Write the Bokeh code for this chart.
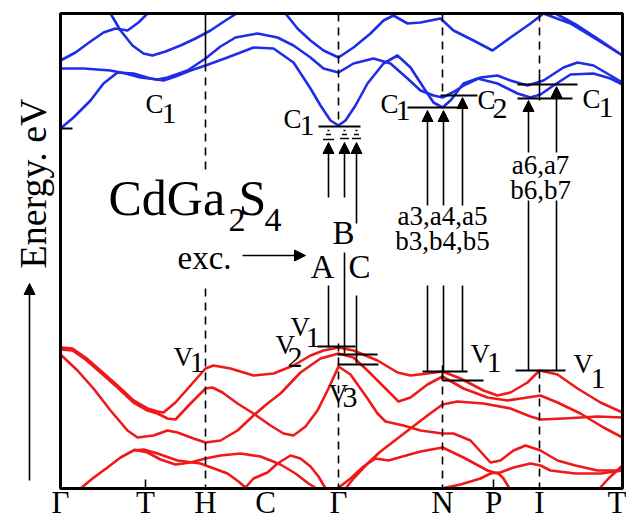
import math
from bokeh.plotting import figure
from bokeh.models import ColumnDataSource, Range1d, Arrow, NormalHead
from bokeh.core.properties import value
from bokeh.embed import file_html
from bokeh.resources import INLINE

FONT = "Liberation Serif"
BLUE = "#1f2de6"
RED = "#f01818"

# ---- k-path (arbitrary units) and high-symmetry labels ----
k_ticks = [0.0, 0.85, 1.45, 2.05, 2.78, 3.82, 4.33, 4.79, 5.62]
tick_labels = ["Γ", "T", "H", "C", "Γ", "N", "P", "I", "T"]
k_min, k_max = 0.0, 5.62          # ends of the k-path
E_min, E_max = -1.39, 3.36        # energy window of the panel (eV)
cbm_tick = 2.21                   # small tick on the energy axis

# ---- conduction bands (eV) ----
cb1_k = [0, .13, .30, .43, .57, .73, .90, 1.03, 1.15, 1.30, 1.45, 1.67, 1.93, 2.13, 2.33, 2.50, 2.60, 2.70, 2.78, 2.85,
         2.95, 3.07, 3.23, 3.37, 3.50, 3.63, 3.73, 3.82, 3.90, 4.03, 4.17, 4.37, 4.57, 4.70, 4.80, 4.93, 5.10, 5.33, 5.50, 5.62]
cb1_E = [2.21, 2.32, 2.49, 2.66, 2.77, 2.76, 2.71, 2.69, 2.73, 2.79, 2.84, 2.92, 3.02, 3.01, 2.87, 2.61, 2.44, 2.29, 2.24, 2.29,
         2.44, 2.66, 2.86, 2.94, 2.82, 2.62, 2.47, 2.42, 2.49, 2.66, 2.71, 2.66, 2.56, 2.52, 2.55, 2.64, 2.75, 2.76, 2.71, 2.65]
cb2_k = [0, .23, .50, .65, .80, .97, 1.07, 1.27, 1.45, 1.60, 1.75, 1.97, 2.17, 2.33, 2.50, 2.63, 2.78, 2.93, 3.13, 3.30,
         3.47, 3.60, 3.73, 3.82, 3.92, 4.05, 4.20, 4.37, 4.50, 4.67, 4.83, 5.03, 5.17, 5.33, 5.62]
cb2_E = [2.81, 2.81, 2.79, 2.76, 2.72, 2.70, 2.72, 2.79, 2.91, 3.03, 3.12, 3.16, 3.12, 3.04, 2.92, 2.81, 2.77, 2.86, 2.91, 2.86,
         2.71, 2.59, 2.54, 2.52, 2.57, 2.65, 2.72, 2.74, 2.69, 2.64, 2.69, 2.82, 2.87, 2.84, 2.67]
cb3_k = [2.25, 2.37, 2.50, 2.63, 2.78, 2.93, 3.10, 3.23, 3.33, 3.47, 3.60, 3.80, 3.93, 4.13, 4.32, 4.50, 4.70, 4.83]
cb3_E = [3.36, 3.21, 3.09, 2.99, 2.92, 3.02, 3.16, 3.29, 3.34, 3.26, 3.27, 3.31, 3.19, 3.09, 2.99, 3.12, 3.26, 3.36]
cb4_k = [4.83, 5.10, 5.33, 5.62]
cb4_E = [3.36, 3.26, 3.12, 2.94]
cb5_k = [4.95, 5.17, 5.40, 5.62]
cb5_E = [3.36, 3.24, 3.09, 2.94]
cb6_k = [0, .15, .30, .43, .55, .67, .78, .87]
cb6_E = [2.89, 2.97, 3.08, 3.17, 3.21, 3.19, 3.27, 3.36]
cb7_k = [.50, .60, .72, .83, .92, 1.05, 1.20, 1.35, 1.50, 1.65, 1.76]
cb7_E = [3.36, 3.19, 3.04, 2.96, 2.94, 2.98, 3.04, 3.11, 3.19, 3.29, 3.36]

# ---- valence bands (eV) ----
vb1_k = [0, .12, .25, .40, .57, .73, .87, .97, 1.03, 1.15, 1.30, 1.45, 1.53, 1.70, 1.93, 2.13, 2.33, 2.50, 2.63, 2.78,
         2.93, 3.17, 3.37, 3.50, 3.67, 3.82, 4.00, 4.23, 4.37, 4.50, 4.67, 4.79, 4.97, 5.17, 5.40, 5.62]
vb1_E = [.02, .01, -.08, -.21, -.36, -.51, -.59, -.62, -.63, -.53, -.36, -.19, -.16, -.19, -.26, -.24, -.16, -.06, -.01, .02,
         -.01, -.11, -.23, -.26, -.24, -.22, -.29, -.41, -.46, -.43, -.33, -.21, -.25, -.39, -.53, -.63]
vb2_k = [0, .12, .25, .40, .57, .73, .87, .97, 1.07, 1.15, 1.30, 1.45, 1.52, 1.62, 1.77, 1.93, 2.10, 2.23, 2.33, 2.45,
         2.57, 2.68, 2.78, 2.90, 3.07, 3.17, 3.25, 3.43, 3.60, 3.82, 3.93, 4.10, 4.30, 4.40, 4.53, 4.65, 4.80, 4.97, 5.15, 5.37, 5.62]
vb2_E = [.00, -.01, -.10, -.23, -.38, -.53, -.61, -.64, -.69, -.70, -.54, -.39, -.38, -.43, -.54, -.64, -.76, -.84, -.86, -.77,
         -.61, -.39, -.17, -.25, -.49, -.64, -.72, -.76, -.81, -.84, -.84, -.91, -1.13, -1.11, -1.01, -.96, -1.01, -1.11, -1.16, -1.21, -1.21]
vb3_k = [0, .17, .33, .50, .67, .77, .93, 1.07, 1.17, 1.33, 1.45, 1.60, 1.77, 1.93, 2.07, 2.20, 2.40, 2.60, 2.78, 2.93,
         3.07, 3.17, 3.27, 3.38, 3.50, 3.67, 3.82, 4.03, 4.27, 4.47, 4.67, 4.80, 4.97, 5.20, 5.43, 5.62]
vb3_E = [-.05, -.21, -.39, -.61, -.81, -.88, -.86, -.81, -.83, -.89, -.93, -.91, -.81, -.66, -.54, -.44, -.23, -.09, -.04, -.08,
         -.21, -.31, -.41, -.52, -.48, -.35, -.27, -.39, -.48, -.51, -.48, -.46, -.53, -.64, -.78, -.88]
vb4_k = [.20, .32, .47, .60, .73, .83, .97, 1.17, 1.40, 1.67, 1.78, 1.85, 1.93, 2.07, 2.17, 2.30, 2.40, 2.50, 2.58, 2.65]
vb4_E = [-1.39, -1.29, -1.18, -1.08, -1.01, -1.00, -1.04, -1.11, -1.14, -1.24, -1.32, -1.38, -1.29, -1.23, -1.14, -1.06,
         -1.09, -1.17, -1.27, -1.39]
vb5_k = [.73, .87, 1.00, 1.15, 1.30, 1.45, 1.60, 1.80, 2.00, 2.20, 2.35, 2.48, 2.56]
vb5_E = [-1.00, -1.03, -1.10, -1.15, -1.13, -1.09, -1.06, -1.04, -1.07, -1.15, -1.24, -1.34, -1.39]
vb6_k = [2.85, 2.93, 3.07, 3.20, 3.33, 3.50, 3.67, 3.82, 3.97, 4.23, 4.50, 4.70, 4.80, 5.03, 5.37, 5.62]
vb6_E = [-1.39, -1.29, -1.14, -1.02, -.92, -.79, -.66, -.55, -.52, -.54, -.59, -.67, -.70, -.69, -.67, -.68]
vb7_k = [2.77, 2.90, 3.03, 3.15, 3.28, 3.42, 3.60, 3.82, 4.03, 4.27, 4.37, 4.53, 4.70, 4.80, 4.90, 5.15, 5.40, 5.62]
vb7_E = [-1.39, -1.29, -1.17, -1.09, -1.11, -1.07, -1.02, -.98, -1.08, -1.21, -1.24, -1.18, -1.14, -1.16, -1.21, -1.24,
         -1.24, -1.21]
vb8_k = [5.39, 5.48, 5.62]
vb8_E = [-1.39, -1.29, -1.16]
vb9_k = [3.81, 4.00, 4.20, 4.30, 4.37, 4.43, 4.49]
vb9_E = [-1.39, -1.35, -1.29, -1.24, -1.23, -1.29, -1.39]

conduction = [(cb1_k, cb1_E), (cb2_k, cb2_E), (cb3_k, cb3_E), (cb4_k, cb4_E), (cb5_k, cb5_E), (cb6_k, cb6_E), (cb7_k, cb7_E)]
valence = [(vb1_k, vb1_E), (vb2_k, vb2_E), (vb3_k, vb3_E), (vb4_k, vb4_E), (vb5_k, vb5_E), (vb6_k, vb6_E),
           (vb7_k, vb7_E), (vb8_k, vb8_E), (vb9_k, vb9_E)]

# ---- annotations: symmetry lines, levels, transitions ----
dash_k = [1.45, 1.45, 2.78, 2.78, 3.82, 3.82, 4.79, 4.79]
dash_E0 = [2.86, .61, 3.36, .06, 3.36, -.23, 3.36, -.21]
dash_E1 = [1.79, -1.39, 2.24, -1.39, 2.54, -1.39, 2.76, -1.39]
solid_k = [1.45, 3.82, 4.79]
solid_E0 = [3.36, -.16, 2.76]
solid_E1 = [2.86, -.31, 2.49]

lev_k0 = [2.58, 2.57, 2.77, 2.77, 3.47, 3.80, 3.62, 3.82, 4.57, 4.57, 4.55]
lev_k1 = [3.00, 2.95, 3.17, 3.18, 4.00, 4.17, 4.07, 4.23, 5.17, 5.12, 5.05]
lev_E = [2.23, .03, -.05, -.15, 2.42, 2.54, -.22, -.31, 2.65, 2.51, -.21]

arr_k = [2.68, 2.84, 2.96, 3.67, 3.83, 4.02, 4.68, 4.96]
arr_E0 = [1.52, 1.52, 1.26, 1.44, 1.44, 1.44, 1.97, 1.97]
arr_E1 = [2.07, 2.07, 2.07, 2.39, 2.39, 2.52, 2.49, 2.63]
low_E0 = [.64, .97, .54, .64, .64, .64, 1.49, 1.49]
low_E1 = [.02, -.04, -.14, -.22, -.22, -.22, -.21, -.21]

exc_k = [2.68, 2.68, 2.68, 2.84, 2.84, 2.84, 2.96, 2.96, 2.96]
exc_E = [2.19, 2.15, 2.10, 2.19, 2.15, 2.11, 2.19, 2.15, 2.11]
exc_hw = [.01, .025, .055, .01, .025, .045, .01, .025, .045]

tickmark_k = [0.85, 4.33]

# label anchors (text centre lines, eV)
main_k = [.85, 2.23, 3.20, 4.17, 5.22, 1.13, 2.30, 2.15, 2.68, 4.10, 5.13]
main_E = [2.46, 2.31, 2.46, 2.50, 2.51, -.07, .23, .05, -.44, -.04, -.14]
main_txt = ["C", "C", "C", "C", "C", "V", "V", "V", "V", "V", "V"]
sub_k = [1.01, 2.39, 3.35, 4.32, 5.38, 1.29, 2.45, 2.27, 2.82, 4.26, 5.30]
sub_E = [2.36, 2.24, 2.39, 2.41, 2.42, -.13, .12, -.08, -.48, -.13, -.29]
sub_txt = ["1", "1", "1", "2", "1", "1", "1", "2", "3", "1", "1"]

abc_k = [2.50, 2.72, 2.88]
abc_E = [.83, 1.17, .83]
abc_txt = ["A", "B", "C"]

trans_k = [3.82, 3.82, 4.80, 4.80]
trans_E = [1.34, 1.09, 1.85, 1.60]
trans_txt = ["a3,a4,a5", "b3,b4,b5", "a6,a7", "b6,b7"]

# ---- figure: the frame covers the whole canvas, the panel box is drawn in data units ----
p = figure(width=626, height=520, x_range=Range1d(-0.60, 5.66), y_range=Range1d(-1.71, 3.49),
           output_backend="svg", toolbar_location=None,
           min_border_left=0, min_border_right=0, min_border_top=0, min_border_bottom=0)
p.background_fill_color = "white"
p.border_fill_color = "white"
p.outline_line_color = None
p.xaxis.visible = False
p.yaxis.visible = False
p.xgrid.visible = False
p.ygrid.visible = False

for k, E in conduction:
    p.line(k, E, line_color=BLUE, line_width=2.6, line_join="round")
for k, E in valence:
    p.line(k, E, line_color=RED, line_width=2.6, line_join="round")

p.segment(x0=dash_k, y0=dash_E0, x1=dash_k, y1=dash_E1, line_color="black", line_width=1.6, line_dash="8 6")
p.segment(x0=solid_k, y0=solid_E0, x1=solid_k, y1=solid_E1, line_color="black", line_width=1.6)
p.segment(x0=lev_k0, y0=lev_E, x1=lev_k1, y1=lev_E, line_color="black", line_width=2)
p.segment(x0=arr_k, y0=low_E0, x1=arr_k, y1=low_E1, line_color="black", line_width=1.6)
p.segment(x0=[a - h for a, h in zip(exc_k, exc_hw)], y0=exc_E, x1=[a + h for a, h in zip(exc_k, exc_hw)], y1=exc_E,
          line_color="black", line_width=1.5)

# panel box, axis ticks and tick labels
p.quad(left=[k_min], right=[k_max], bottom=[E_min], top=[E_max], fill_color=None, line_color="black", line_width=3)
p.segment(x0=tickmark_k, y0=[E_min] * 2, x1=tickmark_k, y1=[E_min + 0.09] * 2, line_color="black", line_width=1.6)
p.segment(x0=[k_min], y0=[cbm_tick], x1=[k_min + 0.12], y1=[cbm_tick], line_color="black", line_width=2)
tick_font = dict(text_font=value(FONT), text_font_size=value("31px"), text_baseline="middle", text_color="black")
p.text(x=k_ticks[:-1], y=[-1.53] * (len(k_ticks) - 1), text=tick_labels[:-1], text_align="center", **tick_font)
p.text(x=[k_max + 0.04], y=[-1.53], text=tick_labels[-1:], text_align="right", **tick_font)

# energy axis title with its arrow
p.text(x=[-0.28], y=[1.66], text=["Energy. eV"], angle=math.pi / 2, text_font=value(FONT),
       text_font_size=value("38px"), text_align="center", text_baseline="middle", text_color="black")
head = dict(size=11, fill_color="black", line_color="black", line_width=1)
p.add_layout(Arrow(end=NormalHead(**head), x_start=-0.31, y_start=-1.31, x_end=-0.31, y_end=.66,
                   line_width=1.6, line_color="black"))

arr_src = ColumnDataSource(dict(x0=arr_k, y0=arr_E0, x1=arr_k, y1=arr_E1))
p.add_layout(Arrow(end=NormalHead(**head), x_start="x0", y_start="y0", x_end="x1", y_end="y1", source=arr_src,
                   line_width=1.6, line_color="black"))
p.add_layout(Arrow(end=NormalHead(**head), x_start=1.82, y_start=.94, x_end=2.45, y_end=.94,
                   line_width=1.6, line_color="black"))

def txt(x, y, t, size, align="left"):
    p.text(x=x, y=y, text=t, text_font=value(FONT), text_font_size=value(size),
           text_align=align, text_baseline="middle", text_color="black")

txt(main_k, main_E, main_txt, "27px")
txt(sub_k, sub_E, sub_txt, "30px")
txt(abc_k, abc_E, abc_txt, "33px")
txt(trans_k, trans_E, trans_txt, "27px", "center")
txt([1.17], [.92], ["exc."], "33px")
txt([.48, 1.78], [1.52, 1.52], ["CdGa", "S"], "50px")
txt([1.68, 2.04], [1.30, 1.30], ["2", "4"], "34px")

open("out.html", "w").write(file_html(p, INLINE))
